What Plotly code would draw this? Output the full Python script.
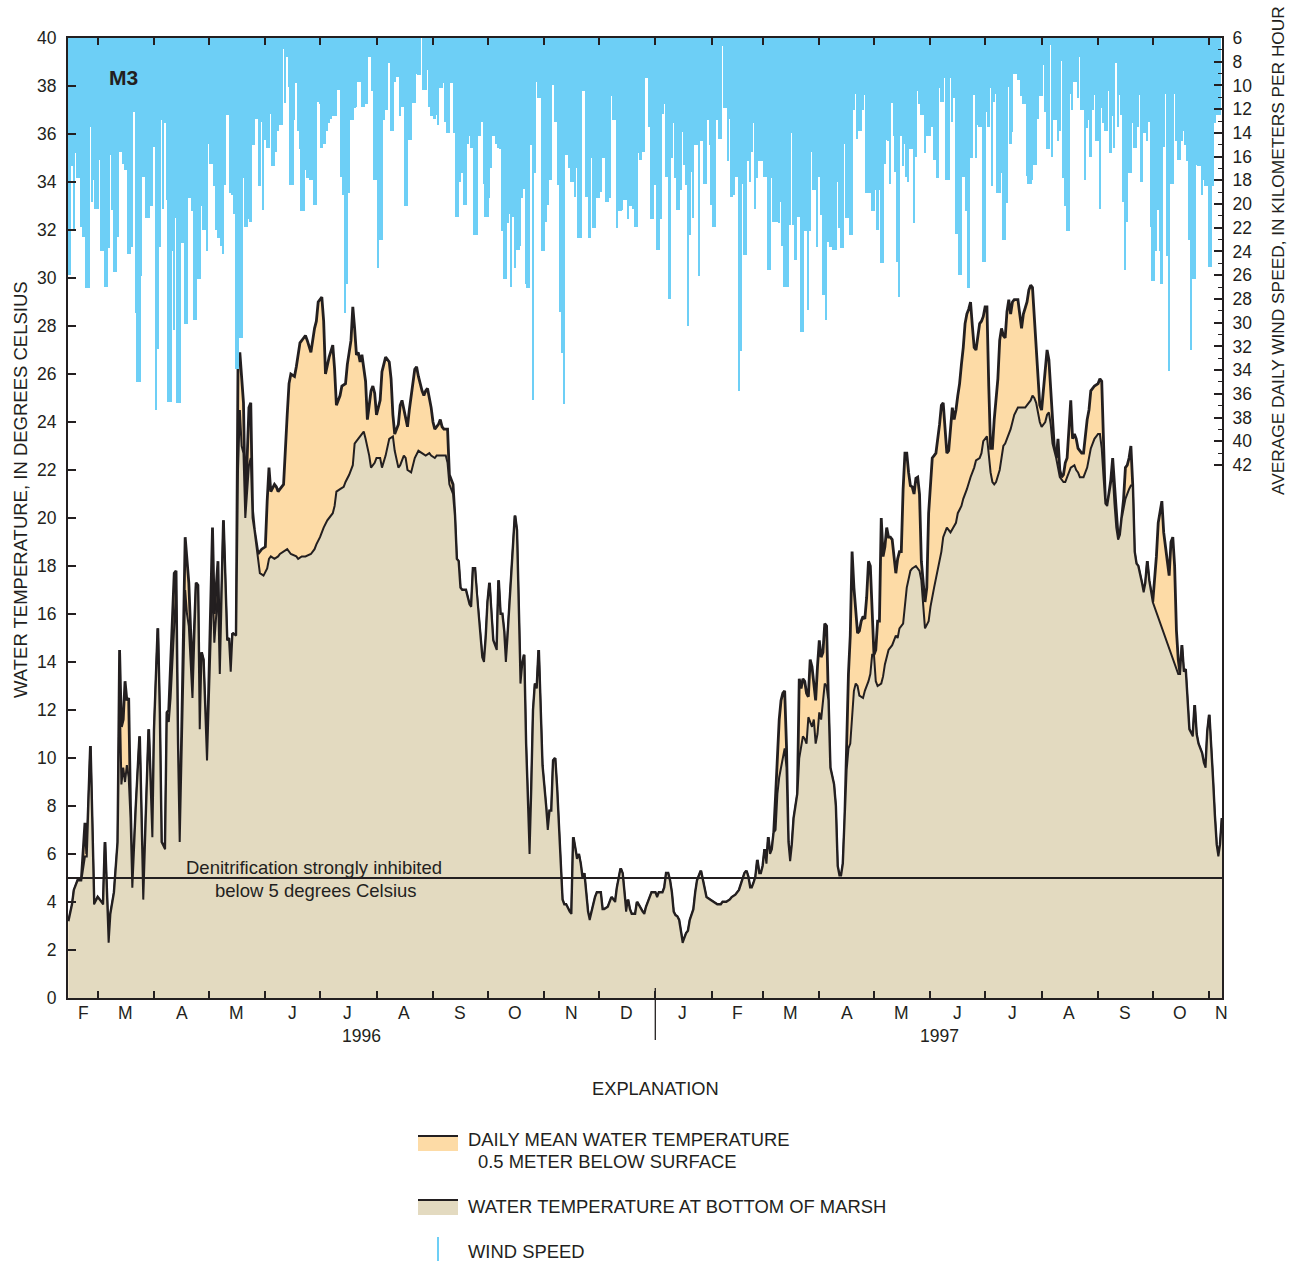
import pandas as pd
import plotly.graph_objects as go

# Site M3: daily series start on 14 February 1996
START = pd.Timestamp("1996-02-14")

INK = "#231F20"
ORANGE = "#FDDBA6"
TAN = "#E3DAC0"
BLUE = "#6DCFF6"
FONT = "Liberation Sans, Arial, Helvetica, sans-serif"
TXT = 18.5

# Average daily wind speed, km/h (one value per day, consecutive)
wind_seg1 = [26.0, 26.0, 16.8, 22.2, 15.7, 17.8, 17.8, 21.9, 22.8, 22.8,
             27.1, 27.1, 13.5, 19.8, 18.0, 20.4, 20.4, 16.3, 24.0, 24.0,
             27.0, 27.0, 23.7, 15.9, 20.5, 25.7, 25.7, 22.8, 15.6, 15.6,
             16.6, 17.1, 17.1, 24.2, 24.2, 23.6, 12.2, 29.2, 35.0, 35.0,
             26.1, 17.7, 17.7, 21.2, 21.2, 20.2, 20.2, 15.2, 37.4, 32.2,
             23.6, 12.9, 20.4, 13.2, 19.7, 36.7, 36.7, 24.0, 30.6, 21.2,
             36.8, 36.8, 23.3, 23.3, 30.1, 30.1, 19.5, 19.5, 20.6, 29.8, 29.8, 26.3, 26.3, 20.2,
             22.2, 22.2, 24.0, 14.9, 16.6, 16.6, 18.5, 22.2, 22.9, 22.9, 23.5, 24.2, 18.4,
             12.5, 12.5, 19.1, 19.2, 20.8, 33.9, 33.9, 31.3, 31.3, 17.8, 21.9,
             21.9, 21.3, 21.5, 15.0, 15.0, 12.8, 12.8]
wind_seg2 = [18.5, 13.1, 20.5, 14.6, 15.3, 15.3, 12.4, 16.8, 16.8, 15.6,
             13.8, 13.3, 13.3, 6.9, 11.5, 7.6, 10.1, 18.4, 18.4, 12.9,
             9.8, 13.8, 15.4, 20.6, 20.6, 17.1, 17.8, 17.8, 18.0, 18.0,
             20.1, 20.1, 11.4, 11.6, 15.3, 14.9, 14.9, 13.8, 13.2, 12.8, 12.6, 12.6,
             12.6, 10.4, 10.4, 17.7, 19.2, 29.2, 26.7, 19.1, 12.9, 12.9,
             11.9, 11.8, 9.7, 9.7, 11.8, 11.8, 11.6, 11.6, 7.6, 7.6,
             10.5, 18.0, 18.0, 25.4, 23.0, 23.0, 12.9, 12.1, 12.1, 8.1,
             13.8, 13.8, 9.7, 9.3, 9.3, 12.6, 11.8, 11.8, 20.2, 20.2,
             14.6, 14.6, 11.5, 11.5, 9.0, 9.1, 9.1, 6.0, 10.4, 10.4,
             8.7, 11.8, 12.6, 12.6, 12.8, 12.5, 13.3, 10.2,
             10.2, 9.8, 13.1, 14.0, 14.0, 9.8, 9.8]
wind_seg3 = [14.0, 21.1, 21.1, 18.1, 17.4, 20.1, 20.1, 14.9, 14.3, 15.3,
             15.3, 22.6, 22.6, 14.3, 14.3, 13.1, 18.3, 21.1, 21.1, 19.5,
             17.0, 14.3, 14.3, 14.9, 15.3, 15.4, 22.3, 26.3, 26.3, 21.6,
             20.8, 27.0, 21.1, 25.4, 23.9, 23.9, 23.5, 19.5, 18.7, 26.7,
             27.1, 27.1, 15.0, 36.5, 17.4, 9.7, 11.1, 11.1, 24.0, 24.0,
             21.5, 20.1, 18.0, 18.0, 10.0, 13.1, 13.1, 18.4, 29.1, 32.6,
             36.9, 15.9, 15.9, 17.0, 18.1, 18.1, 19.4, 17.0, 22.9, 22.9, 10.5, 10.5,
             19.4, 19.4, 22.9, 16.1, 22.0, 22.0, 19.5, 19.5, 19.0, 16.1,
             16.1, 19.8, 19.8, 19.5, 10.9, 12.9, 12.9, 22.0, 20.6, 20.6,
             20.5, 19.7, 19.7, 21.3, 20.2, 20.2, 20.4, 21.9, 21.9, 15.7,
             16.3, 15.6, 15.6, 9.4, 9.4]
wind_seg4 = [13.5, 21.3, 21.3, 18.4, 23.9, 23.9, 21.3, 12.4, 11.6, 17.7, 17.7, 28.0, 16.1,
             13.2, 17.8, 20.5, 20.5, 18.8, 13.9, 16.7, 18.4,
             30.3, 22.6, 17.3, 21.2, 15.0, 15.0, 26.1, 14.7, 14.7, 18.3, 18.3, 12.9, 15.0,
             20.1, 21.9, 21.9, 12.9, 14.5, 14.5,
             6.7, 11.9, 11.9, 16.4, 12.8, 19.4, 19.2, 17.7, 17.7,
             35.8, 32.4, 18.3, 24.3, 24.3, 16.4, 18.1, 15.6, 13.2, 20.4, 17.8, 16.4, 16.4,
             16.4, 17.7, 17.7, 25.6, 25.6, 17.8, 21.5, 21.5, 21.5, 21.6, 19.8, 23.5, 27.0,
             27.0, 27.0, 21.8, 14.0, 21.8, 24.7, 21.1, 21.1,
             30.8, 30.8, 22.3, 22.3, 28.9, 22.3, 15.6, 18.8, 18.8, 23.6, 17.7, 20.9, 27.7,
             27.7, 29.8, 23.2, 23.6, 23.6, 23.9, 23.9, 18.1, 22.0, 23.7, 23.7]
wind_seg5 = [14.9, 21.2, 21.2, 22.6, 22.6, 12.1, 10.7, 14.5, 13.8, 13.8,
             12.1, 10.8, 19.1, 19.1, 19.1, 20.6, 20.6, 18.8, 22.2, 18.8,
             25.0, 25.0, 16.6, 14.6, 14.7, 18.3, 11.5, 14.3, 17.3, 24.9,
             27.8, 14.3, 16.8, 14.9, 17.7, 18.1, 15.4, 15.4, 21.6, 16.0,
             10.5, 11.6, 12.5, 12.5, 15.7, 14.3, 14.3, 14.3, 13.5, 16.3,
             16.3, 17.8, 10.2, 11.4, 11.4, 9.4, 18.0, 18.0, 9.4, 13.1,
             11.1, 22.5, 22.5, 26.0, 26.0, 17.7, 17.7, 20.6,
             27.1, 16.1, 16.1, 10.8, 16.1, 13.3, 13.5, 13.5, 24.9, 24.9,
             12.2, 13.5, 10.2, 18.5, 11.4, 10.7, 19.1, 19.1, 17.4, 23.0,
             23.0, 19.9, 10.1, 14.9, 13.9, 9.0, 9.0, 9.5, 9.5, 10.9,
             11.6, 11.6, 17.6, 18.3, 18.3, 18.0]
wind_seg6 = [16.7, 16.7, 12.8, 10.9, 10.9, 8.3, 12.2, 15.4, 15.4, 6.6,
             16.0, 12.9, 12.9, 14.7, 13.8, 7.9, 17.8, 20.2, 22.3, 22.3,
             10.7, 12.1, 9.7, 9.7, 11.1, 7.6, 12.1, 12.1, 18.0, 13.6,
             12.9, 16.0, 12.1, 10.8, 14.7, 14.7, 20.4, 11.9, 13.2, 13.8,
             13.8, 10.5, 15.7, 12.6, 15.3, 8.1, 13.5, 10.8, 12.5, 19.8,
             25.6, 21.5, 17.4, 17.4, 13.2, 15.3, 15.3, 13.5, 10.8, 18.1,
             14.0, 14.0, 14.7, 13.1, 21.9, 26.5, 26.5, 24.0, 20.5, 24.0,
             26.7, 15.2, 10.7, 24.4,
             34.1, 18.3, 18.3, 10.7, 14.7, 16.3, 16.3, 14.7, 13.8, 15.0, 16.4, 23.0,
             32.3, 26.3, 26.3, 16.7, 16.8, 16.8, 19.2, 18.0, 18.5, 18.5, 25.3, 25.3,
             18.5, 13.2, 12.5, 12.5, 12.5]

# Water temperature, deg C, as (days since start, value)
surface_1996 = [
    (0, 3.2), (2, 3.9), (3, 4.5), (5, 4.9), (7, 4.9), (9, 7.3), (10, 6.0), (12, 10.5),
    (14, 3.9), (16, 4.2), (19, 3.9), (20, 6.5), (22, 2.3), (23, 3.5), (25, 4.4), (27, 6.5),
    (28, 14.5), (29, 11.3), (30, 11.6), (31, 13.2), (32, 12.4), (33, 12.5), (34, 8.0),
    (35, 4.6), (37, 8.0), (39, 10.9), (41, 4.1), (44, 11.2), (46, 6.7), (47, 11.2),
    (49, 15.4), (50, 11.9), (51, 6.5), (53, 6.2), (54, 11.9), (55, 12.0), (58, 17.7),
    (59, 17.8), (60, 10.6), (61, 6.5), (64, 19.2), (66, 17.3), (68, 13.3), (70, 17.3),
    (71, 17.2), (72, 11.2), (73, 14.4), (74, 14.1), (76, 9.9), (79, 19.6), (80, 16.0),
    (82, 18.2), (83, 13.5), (85, 19.9), (87, 14.9), (88, 15.0), (89, 13.6), (90, 15.2),
    (92, 15.1), (93, 26.4), (94, 26.9), (95, 25.7), (96, 24.8), (97, 20.3), (98, 22.9),
    (99, 24.6), (100, 24.8), (101, 20.3), (102, 19.5), (104, 18.5), (106, 18.7),
    (108, 18.8), (109, 20.7), (110, 22.1), (111, 21.1), (113, 21.4), (114, 21.3),
    (115, 21.1), (116, 21.2), (118, 21.4), (120, 24.3), (121, 25.6), (122, 26.0),
    (124, 25.9), (125, 26.3), (126, 26.8), (127, 27.3), (129, 27.5), (130, 27.6),
    (131, 27.4), (133, 26.9), (135, 27.9), (136, 28.2), (137, 29.0), (138, 29.1),
    (139, 29.2), (140, 28.2), (141, 26.0), (143, 26.7), (145, 27.2), (146, 26.2),
    (147, 24.7), (149, 25.1), (150, 25.5), (152, 25.6), (153, 26.4), (155, 27.4),
    (156, 28.8), (157, 27.9), (158, 26.8), (159, 26.9), (160, 26.5), (161, 26.8),
    (163, 25.7), (164, 24.1), (166, 25.3), (167, 25.5), (168, 25.2), (169, 24.3),
    (171, 24.9), (172, 26.1), (174, 26.7), (176, 26.5), (177, 25.8), (178, 24.3),
    (179, 23.5), (181, 23.9), (182, 24.7), (183, 24.9), (185, 24.1), (186, 23.8),
    (187, 24.5), (189, 25.5), (190, 26.2), (191, 26.3), (192, 25.9), (194, 25.3),
    (195, 25.1), (196, 25.3), (197, 25.4), (199, 24.6), (200, 24.0), (201, 23.7),
    (203, 23.9), (204, 24.1), (205, 23.8), (206, 23.7), (208, 23.7), (209, 21.8),
    (211, 21.4),
]
bottom_1996 = [
    (0, 3.2), (2, 3.9), (3, 4.5), (5, 4.9), (7, 4.9), (9, 5.9), (10, 5.9), (12, 10.5),
    (14, 3.9), (16, 4.2), (19, 3.9), (20, 6.5), (22, 2.3), (23, 3.5), (25, 4.4), (27, 6.5),
    (28, 13.0), (29, 8.9), (30, 9.6), (31, 9.0), (32, 9.7), (33, 9.2), (34, 7.5),
    (35, 4.6), (37, 8.0), (39, 10.9), (41, 4.1), (44, 11.2), (46, 6.7), (47, 11.2),
    (49, 15.4), (50, 11.9), (51, 6.5), (53, 6.2), (54, 11.9), (55, 11.5), (56, 12.5),
    (57, 14.0), (58, 16.0), (59, 17.0), (60, 10.6), (61, 6.5), (64, 17.0), (65, 16.0),
    (66, 15.5), (68, 12.5), (70, 17.3), (71, 17.2), (72, 11.2), (73, 14.4), (74, 14.1),
    (76, 9.9), (79, 17.5), (80, 14.8), (82, 17.0), (83, 13.5), (85, 19.9), (87, 14.9),
    (88, 15.0), (89, 13.6), (90, 15.2), (92, 15.1), (93, 22.0), (94, 24.5), (95, 23.0),
    (96, 22.7), (97, 20.0), (98, 21.0), (99, 22.2), (100, 22.5), (101, 20.0), (102, 19.5),
    (104, 18.2), (105, 17.7), (107, 17.6), (109, 17.9), (110, 18.3), (111, 18.4),
    (113, 18.3), (115, 18.4), (116, 18.5), (118, 18.6), (120, 18.7), (122, 18.5),
    (125, 18.4), (126, 18.3), (128, 18.4), (130, 18.4), (133, 18.5), (135, 18.7),
    (136, 18.9), (138, 19.2), (140, 19.6), (142, 19.9), (145, 20.2), (146, 20.5),
    (147, 21.1), (149, 21.2), (151, 21.3), (152, 21.5), (154, 21.8), (156, 22.2),
    (157, 23.1), (158, 23.2), (160, 23.4), (162, 23.6), (163, 23.3), (165, 22.6),
    (166, 22.1), (168, 22.3), (169, 22.5), (171, 22.5), (172, 22.1), (174, 22.6),
    (176, 23.3), (178, 23.4), (179, 22.8), (181, 22.1), (182, 22.2), (184, 22.6),
    (185, 22.5), (186, 22.0), (188, 21.9), (189, 22.2), (190, 22.5), (192, 22.8),
    (194, 22.7), (196, 22.6), (198, 22.7), (199, 22.6), (201, 22.5), (202, 22.6),
    (205, 22.6), (207, 22.6), (208, 22.3), (209, 21.4), (211, 21.0),
]
# Autumn 1996 through early March 1997: both depths read the same
shared_winter = [
    (212, 20.1), (213, 18.3), (214, 18.2), (215, 17.1), (216, 17.0), (218, 17.0),
    (220, 16.4), (221, 16.3), (222, 17.9), (223, 17.9), (224, 16.8), (225, 16.0),
    (227, 14.2), (228, 14.0), (229, 15.0), (230, 16.5), (231, 17.3), (232, 16.0),
    (233, 14.9), (235, 14.5), (236, 17.4), (237, 16.0), (238, 16.0), (239, 15.3),
    (240, 14.0), (241, 15.1), (243, 17.6), (244, 18.7), (245, 20.1), (246, 19.5),
    (247, 16.6), (248, 13.1), (249, 13.9), (250, 14.3), (251, 10.6), (253, 6.0),
    (254, 8.7), (255, 12.0), (256, 13.1), (257, 12.9), (258, 14.5), (259, 11.6),
    (260, 9.7), (262, 8.0), (263, 7.0), (264, 7.8), (265, 7.8), (266, 9.9), (267, 10.0),
    (268, 8.8), (269, 7.1), (270, 5.6), (271, 4.1), (272, 3.9), (273, 3.9), (275, 3.6),
    (276, 3.5), (277, 6.7), (278, 6.2), (279, 5.8), (280, 6.0), (281, 5.6), (282, 5.0),
    (283, 5.2), (284, 4.4), (285, 3.6), (286, 3.25), (287, 3.6), (289, 4.2), (290, 4.4),
    (292, 4.4), (293, 3.7), (294, 3.7), (296, 3.8), (297, 4.0), (298, 4.2), (299, 4.1),
    (300, 4.0), (301, 4.6), (302, 5.1), (303, 5.4), (304, 5.2), (305, 4.4), (306, 3.6),
    (307, 4.1), (308, 3.7), (309, 3.5), (311, 3.5), (312, 4.0), (314, 3.7), (315, 3.6),
    (316, 3.5), (317, 3.8), (319, 4.2), (320, 4.4), (322, 4.4), (323, 4.2), (324, 4.4),
    (326, 4.4), (327, 4.6), (328, 5.2), (329, 5.2), (330, 4.9), (331, 4.4), (332, 3.6),
    (333, 3.45), (334, 3.4), (335, 3.25), (336, 2.7), (337, 2.3), (339, 2.7), (340, 2.8),
    (341, 3.25), (343, 3.7), (344, 4.4), (345, 4.9), (347, 5.3), (348, 4.9), (349, 4.5),
    (350, 4.2), (352, 4.1), (354, 4.0), (356, 3.9), (358, 3.9), (359, 4.0), (361, 4.0),
    (363, 4.1), (364, 4.2), (366, 4.3), (368, 4.5), (370, 5.0), (371, 5.2), (372, 5.3),
    (373, 5.05), (374, 4.6), (375, 4.6), (376, 4.8), (377, 5.05), (378, 5.75), (379, 5.2),
    (380, 5.2), (381, 5.5), (382, 6.2), (383, 5.6), (384, 6.7), (385, 6.0), (386, 6.2),
]
surface_1997 = [
    (387, 6.9), (388, 8.4), (389, 10.05), (390, 11.6), (391, 12.4), (392, 12.7),
    (393, 12.8), (394, 10.5), (395, 6.5), (396, 5.7), (397, 6.4), (398, 7.5), (399, 8.0),
    (400, 8.5), (401, 13.3), (402, 12.9), (403, 13.3), (404, 13.2), (405, 12.7),
    (406, 12.55), (407, 14.1), (408, 13.8), (409, 13.1), (410, 12.4), (411, 13.8),
    (412, 14.9), (413, 14.2), (414, 14.4), (415, 15.6), (416, 15.5), (417, 12.4),
    (418, 9.6), (420, 8.9), (421, 8.0), (422, 5.5), (423, 5.1), (424, 5.1), (425, 5.6),
    (426, 7.5), (427, 11.0), (428, 13.5), (429, 15.1), (430, 18.6), (431, 17.1),
    (433, 15.2), (434, 15.3), (435, 15.7), (436, 15.9), (437, 15.8), (438, 16.7),
    (439, 18.2), (440, 18.0), (441, 16.3), (442, 14.3), (443, 14.5), (444, 15.7),
    (445, 15.7), (446, 20.0), (447, 18.4), (448, 18.8), (449, 19.6), (450, 19.2),
    (451, 19.2), (452, 19.1), (453, 18.4), (454, 17.7), (455, 18.3), (456, 18.6),
    (457, 18.6), (458, 21.2), (459, 22.7), (460, 22.7), (461, 21.9), (462, 21.35),
    (463, 21.3), (464, 21.0), (465, 21.65), (466, 21.7), (467, 21.0), (468, 18.2),
    (470, 16.5), (471, 17.1), (472, 20.2), (473, 21.6), (474, 22.5), (475, 22.6),
    (476, 22.7), (478, 23.9), (479, 24.7), (480, 24.8), (481, 23.7), (482, 22.7),
    (483, 22.8), (484, 23.7), (485, 24.6), (486, 24.1), (487, 24.5), (488, 25.1),
    (489, 25.6), (490, 26.4), (491, 27.1), (492, 28.1), (493, 28.5), (494, 28.7),
    (495, 29.0), (496, 28.0), (497, 27.1), (498, 27.0), (499, 27.6), (500, 28.1),
    (501, 28.2), (502, 28.4), (503, 28.8), (504, 28.8), (505, 25.5), (506, 22.9),
    (507, 22.9), (508, 24.1), (510, 25.8), (511, 27.4), (512, 27.9), (513, 27.6),
    (514, 27.5), (515, 28.6), (516, 29.1), (517, 28.5), (518, 29.0), (519, 29.1),
    (521, 29.1), (522, 28.5), (523, 27.9), (524, 28.5), (526, 29.0), (527, 29.5),
    (528, 29.7), (529, 29.6), (530, 28.4), (532, 26.0), (533, 24.7), (534, 24.5),
    (535, 25.3), (536, 26.4), (537, 27.0), (538, 26.6), (539, 25.3), (541, 22.9),
    (542, 22.5), (543, 23.3), (544, 22.0), (545, 21.7), (546, 21.8), (547, 22.3),
    (548, 22.5), (549, 24.0), (550, 24.9), (551, 23.3), (552, 23.5), (553, 23.3),
    (554, 22.9), (556, 22.7), (557, 22.7), (559, 24.1), (560, 24.5), (561, 25.3),
    (563, 25.5), (565, 25.6), (566, 25.8), (567, 25.7), (568, 22.9), (569, 20.6),
    (570, 20.5), (571, 21.0), (572, 21.6), (573, 22.5), (574, 21.3), (575, 20.3),
    (576, 19.2), (577, 19.3), (578, 20.0), (579, 20.8), (580, 22.1), (581, 22.2),
    (582, 22.5), (583, 23.0), (584, 21.4), (585, 18.6), (586, 18.1), (587, 18.0),
    (589, 17.3), (590, 16.9), (591, 17.3), (592, 18.2), (593, 17.4), (594, 16.9),
    (595, 16.5), (597, 18.4), (598, 19.8), (600, 20.7), (601, 19.4), (603, 18.2),
    (604, 17.6), (605, 19.0), (606, 19.2), (607, 18.0), (608, 15.3), (609, 14.1),
]
bottom_1997 = [
    (387, 6.9), (388, 7.0), (389, 8.5), (390, 9.2), (391, 9.6), (392, 10.0), (393, 10.4),
    (394, 9.6), (395, 6.5), (396, 5.7), (397, 6.4), (398, 7.5), (399, 8.0), (400, 8.5),
    (401, 10.0), (402, 10.5), (403, 10.9), (404, 10.8), (405, 10.6), (406, 11.7),
    (407, 11.5), (408, 11.3), (409, 11.6), (410, 10.6), (411, 11.0), (412, 11.9),
    (413, 11.6), (414, 12.3), (415, 13.1), (416, 13.0), (417, 12.4), (418, 9.6),
    (420, 8.9), (421, 8.0), (422, 5.5), (423, 5.1), (424, 5.1), (425, 5.6), (426, 7.5),
    (427, 9.5), (428, 10.4), (429, 10.6), (431, 12.8), (432, 13.1), (433, 13.0),
    (434, 12.6), (436, 12.5), (437, 12.8), (439, 13.2), (440, 13.5), (441, 14.3),
    (442, 14.3), (443, 13.2), (444, 13.0), (446, 13.1), (447, 13.4), (448, 13.9),
    (450, 14.5), (452, 14.7), (453, 14.9), (454, 15.1), (455, 15.0), (456, 15.4),
    (458, 15.6), (459, 16.3), (460, 17.1), (462, 17.8), (463, 17.9), (465, 18.0),
    (467, 17.8), (468, 17.4), (469, 16.3), (470, 15.4), (472, 15.7), (473, 16.3),
    (475, 17.1), (477, 17.8), (479, 18.6), (480, 19.2), (482, 19.6), (484, 19.4),
    (486, 19.7), (487, 19.8), (488, 20.2), (490, 20.5), (491, 20.8), (493, 21.2),
    (495, 21.7), (497, 22.1), (498, 22.4), (500, 22.5), (501, 22.7), (502, 23.2),
    (504, 23.4), (505, 22.6), (506, 21.9), (507, 21.5), (508, 21.4), (509, 21.5),
    (511, 22.0), (512, 22.5), (513, 23.0), (514, 23.1), (515, 23.3), (517, 23.7),
    (518, 24.0), (519, 24.3), (521, 24.6), (523, 24.6), (525, 24.6), (526, 24.7),
    (528, 24.9), (529, 25.1), (530, 25.0), (531, 24.8), (533, 24.0), (534, 23.8),
    (536, 24.0), (537, 24.3), (538, 24.4), (539, 23.9), (540, 23.1), (542, 22.5),
    (544, 21.7), (546, 21.5), (547, 21.5), (548, 21.7), (550, 22.1), (552, 22.2),
    (553, 22.0), (554, 21.9), (555, 21.7), (557, 21.7), (559, 22.1), (560, 22.5),
    (561, 22.9), (563, 23.3), (565, 23.5), (566, 23.5), (567, 22.9), (568, 21.7),
    (569, 20.6), (570, 20.5), (571, 21.0), (573, 21.9), (574, 20.6), (575, 19.6),
    (576, 19.1), (577, 19.3), (578, 20.0), (580, 20.8), (582, 21.2), (583, 21.35),
    (584, 21.35), (585, 18.6), (586, 18.1), (587, 18.0), (589, 17.3), (590, 16.9),
    (591, 17.3), (592, 18.2), (593, 17.4), (594, 16.9), (595, 16.5), (609, 13.5),
]
shared_fall = [
    (610, 13.5), (611, 14.7), (612, 13.6), (613, 13.7), (614, 12.4), (615, 11.2),
    (617, 10.9), (618, 12.2), (619, 11.0), (620, 10.6), (622, 10.2), (623, 9.8),
    (624, 9.6), (625, 11.1), (626, 11.8), (627, 10.6), (628, 9.1), (629, 7.6),
    (630, 6.4), (631, 5.9), (632, 6.4), (633, 7.5),
]

denitrification_threshold = 5  # deg C

month_label_dates = ["1996-02-22", "1996-03-16", "1996-04-16", "1996-05-16", "1996-06-16",
                     "1996-07-16", "1996-08-16", "1996-09-16", "1996-10-16", "1996-11-16",
                     "1996-12-16", "1997-01-16", "1997-02-15", "1997-03-16", "1997-04-16",
                     "1997-05-16", "1997-06-16", "1997-07-16", "1997-08-16", "1997-09-16",
                     "1997-10-16", "1997-11-07 12:00"]
month_letters = ["F", "M", "A", "M", "J", "J", "A", "S", "O", "N", "D",
                 "J", "F", "M", "A", "M", "J", "J", "A", "S", "O", "N"]
year_label_dates = ["1996-07-24", "1997-06-06"]
year_labels = ["1996", "1997"]

temp_ticks = list(range(0, 41, 2))
wind_ticks = list(range(6, 43, 2))
wind_minor_ticks = list(range(7, 42, 2))


def to_dates(days):
    return START + pd.to_timedelta(list(days), unit="D")


surface = surface_1996 + shared_winter + surface_1997 + shared_fall
bottom = bottom_1996 + shared_winter + bottom_1997 + shared_fall

fig = go.Figure()
fig.add_trace(go.Scatter(
    x=to_dates(d for d, _ in surface), y=[t for _, t in surface],
    mode="lines", line=dict(color=INK, width=2.8),
    fill="tozeroy", fillcolor=ORANGE, hoverinfo="skip"))
fig.add_trace(go.Scatter(
    x=to_dates(d for d, _ in bottom), y=[t for _, t in bottom],
    mode="lines", line=dict(color=INK, width=2.0),
    fill="tozeroy", fillcolor=TAN, hoverinfo="skip"))

wind_speed = wind_seg1 + wind_seg2 + wind_seg3 + wind_seg4 + wind_seg5 + wind_seg6
fig.add_trace(go.Bar(
    x=to_dates(range(len(wind_speed))), y=wind_speed, yaxis="y2",
    width=86400000, marker=dict(color=BLUE, line=dict(width=0)), hoverinfo="skip"))

# plot area in page pixels: x 68..1222, y 38..998
L, R, T, B = 68, 1222, 38, 998


def px(x):
    return (x - L) / (R - L)


def py(y):
    return (B - y) / (B - T)


month_starts = pd.date_range("1996-03-01", "1997-11-01", freq="MS")

fig.update_layout(
    width=1297, height=1262,
    margin=dict(l=L, r=1297 - R, t=T, b=1262 - B, pad=0),
    paper_bgcolor="white", plot_bgcolor="white",
    showlegend=False, hovermode=False, bargap=0,
    font=dict(family=FONT, size=TXT, color=INK),
    xaxis=dict(type="date", range=["1996-02-13 16:48", "1997-11-08 00:00"],
               tickmode="array", tickvals=list(month_starts), showticklabels=False,
               ticks="inside", ticklen=7, tickwidth=1.5, tickcolor=INK,
               showline=True, linewidth=2, linecolor=INK, mirror="ticks",
               showgrid=False, zeroline=False),
    yaxis=dict(range=[0, 40], tickmode="array", tickvals=temp_ticks,
               ticks="inside", ticklen=8, tickwidth=1.5, tickcolor=INK,
               showline=True, linewidth=2, linecolor=INK,
               showgrid=False, zeroline=False, ticklabelstandoff=6,
               tickfont=dict(size=17.5)),
    yaxis2=dict(overlaying="y", side="right", range=[86.94, 6],
                tickmode="array", tickvals=wind_ticks,
                ticks="inside", ticklen=8, tickwidth=1.5, tickcolor=INK,
                minor=dict(tickmode="array", tickvals=wind_minor_ticks, ticks="inside",
                           ticklen=4, tickwidth=1.2, tickcolor=INK),
                showline=True, linewidth=2, linecolor=INK,
                showgrid=False, zeroline=False, ticklabelstandoff=5,
                tickfont=dict(size=17.5)),
)

shapes = [
    # threshold line
    dict(type="line", xref="paper", yref="y", x0=0, x1=1,
         y0=denitrification_threshold, y1=denitrification_threshold,
         line=dict(color=INK, width=2), layer="above"),
    # year divider at 1 January 1997
    dict(type="line", xref="x", yref="paper", x0="1997-01-01", x1="1997-01-01",
         y0=py(988), y1=py(1040), line=dict(color=INK, width=1.3), layer="above"),
    # legend swatches
    dict(type="rect", xref="paper", yref="paper", x0=px(418), x1=px(458),
         y0=py(1151), y1=py(1136), fillcolor=ORANGE, line=dict(width=0)),
    dict(type="line", xref="paper", yref="paper", x0=px(418), x1=px(458),
         y0=py(1136), y1=py(1136), line=dict(color=INK, width=2.2)),
    dict(type="rect", xref="paper", yref="paper", x0=px(418), x1=px(458),
         y0=py(1215), y1=py(1200), fillcolor=TAN, line=dict(width=0)),
    dict(type="line", xref="paper", yref="paper", x0=px(418), x1=px(458),
         y0=py(1200), y1=py(1200), line=dict(color=INK, width=1.8)),
    dict(type="line", xref="paper", yref="paper", x0=px(438), x1=px(438),
         y0=py(1237), y1=py(1261), line=dict(color=BLUE, width=2)),
]
fig.update_layout(shapes=shapes)

ann = []
for d, s in zip(month_label_dates, month_letters):
    ann.append(dict(x=d, xref="x", y=py(1013), yref="paper", text=s, showarrow=False,
                    xanchor="center", yanchor="middle", font=dict(size=17.5)))
for d, s in zip(year_label_dates, year_labels):
    ann.append(dict(x=d, xref="x", y=py(1036), yref="paper", text=s, showarrow=False,
                    xanchor="center", yanchor="middle", font=dict(size=17.5)))
ann += [
    dict(x=px(107), y=py(78), xref="paper", yref="paper", text="<b>M3</b>",
         showarrow=False, xanchor="left", yanchor="middle", font=dict(size=21)),
    dict(x=px(20), y=py(490), xref="paper", yref="paper",
         text="WATER TEMPERATURE, IN DEGREES CELSIUS", textangle=-90,
         showarrow=False, xanchor="center", yanchor="middle", font=dict(size=18.5)),
    dict(x=px(1278), y=py(251), xref="paper", yref="paper",
         text="AVERAGE DAILY WIND SPEED, IN KILOMETERS PER HOUR", textangle=-90,
         showarrow=False, xanchor="center", yanchor="middle", font=dict(size=17.3)),
    dict(x=px(314), y=denitrification_threshold, xref="paper", yref="y", yshift=11,
         text="Denitrification strongly inhibited", showarrow=False,
         xanchor="center", yanchor="middle", font=dict(size=18.5)),
    dict(x=px(316), y=denitrification_threshold, xref="paper", yref="y", yshift=-12,
         text="below 5 degrees Celsius", showarrow=False,
         xanchor="center", yanchor="middle", font=dict(size=18.5)),
    dict(x=px(655), y=py(1088), xref="paper", yref="paper", text="EXPLANATION",
         showarrow=False, xanchor="center", yanchor="middle", font=dict(size=18.3)),
    dict(x=px(466), y=py(1139), xref="paper", yref="paper",
         text="DAILY MEAN WATER TEMPERATURE", showarrow=False,
         xanchor="left", yanchor="middle", font=dict(size=18.4)),
    dict(x=px(476), y=py(1161), xref="paper", yref="paper",
         text="0.5 METER BELOW SURFACE", showarrow=False,
         xanchor="left", yanchor="middle", font=dict(size=18.4)),
    dict(x=px(466), y=py(1206), xref="paper", yref="paper",
         text="WATER TEMPERATURE AT BOTTOM OF MARSH", showarrow=False,
         xanchor="left", yanchor="middle", font=dict(size=18.4)),
    dict(x=px(466), y=py(1251), xref="paper", yref="paper",
         text="WIND SPEED", showarrow=False,
         xanchor="left", yanchor="middle", font=dict(size=18.4)),
]
fig.update_layout(annotations=ann)

fig.write_html("out.html")
